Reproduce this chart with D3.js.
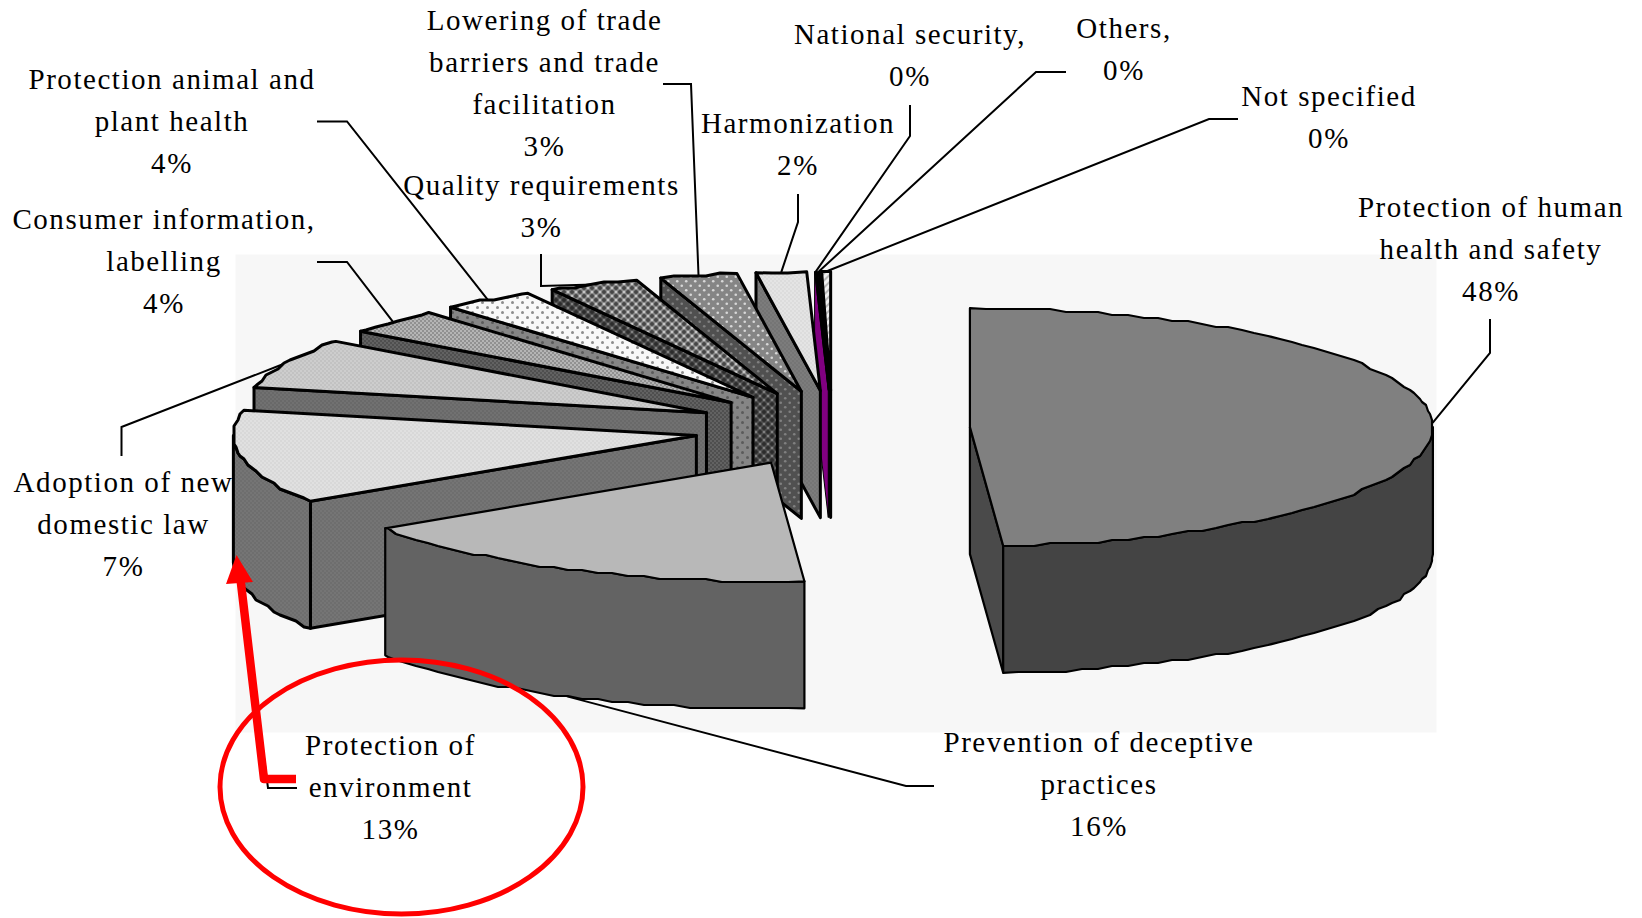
<!DOCTYPE html>
<html>
<head>
<meta charset="utf-8">
<script src="https://cdn.jsdelivr.net/npm/d3@7"></script>
<style>
    html, body { margin: 0; padding: 0; background: #fff; }
    svg { display: block; }
    text { font-family: "Liberation Serif", serif; font-size: 29px; letter-spacing: 1.55px; fill: #000; }
</style>
</head>
<body>
<div id="chart"></div>
<script>
// Data, slices run clockwise from 12 o'clock
var names = [
    ["Protection of human", "health and safety"],
    ["Prevention of deceptive", "practices"],
    ["Protection of", "environment"],
    ["Adoption of new", "domestic law"],
    ["Consumer information,", "labelling"],
    ["Protection animal and", "plant health"],
    ["Quality requirements"],
    ["Lowering of trade", "barriers and trade", "facilitation"],
    ["Harmonization"],
    ["National security,"],
    ["Others,"],
    ["Not specified"]
];
var values = [48.86, 16.83, 12.72, 6.83, 3.44, 3.25, 3.17, 2.69, 1.75, 0.08, 0.08, 0.31];
var percentLabels = ["48%", "16%", "13%", "7%", "4%", "4%", "3%", "3%", "2%", "0%", "0%", "0%"];

// Label layout: centre x and first line y, then the fixed elbows of the leader lines
var labelX = [1491, 1099, 390.5, 123.5, 164, 172, 541.5, 544.5, 798, 910, 1124, 1329];
var labelY = [207.5, 742.5, 745.5, 482.7, 219.5, 79.6, 185.5, 21, 123.5, 34.5, 28.5, 96.5];
var leaderPoints = [
    [[1490, 319], [1490, 353]],
    [[934, 786], [906, 786]],
    [[297, 788], [268, 788]],
    [[121.5, 456], [121.5, 427]],
    [[317, 262], [347, 262]],
    [[317, 121.5], [347, 121.5]],
    [[541, 254], [541, 286]],
    [[663, 84], [691, 84]],
    [[798, 194], [798, 222]],
    [[910, 105], [910, 136]],
    [[1066, 72], [1036, 72]],
    [[1238, 119], [1209, 119]]
];

// Fills per slice: top face, walls
var topFills = ["#808080", "#b8b8b8", "url(#envTop)", "url(#lawTop)", "url(#infoTop)", "url(#animalTop)",
    "url(#qualityTop)", "url(#tradeTop)", "url(#harmTop)", "#000000", "#000000", "url(#otherTop)"];
var wallFills = ["#444444", "#636363", "url(#envWall)", "url(#lawWall)", "url(#infoWall)", "url(#animalWall)",
    "url(#qualityWall)", "url(#tradeWall)", "url(#harmWall)", "#800080", "#000000", "#000000"];

var width = 1642, height = 918;

// Pie geometry
var center = { x: 832, y: 428.5 };
var radius = { x: 463, y: 119 };
var explode = { x: 138, y: 38 };
var depth = 127;

var svg = d3.select("#chart").append("svg")
    .attr("width", width)
    .attr("height", height);

var defs = svg.append("defs");

// A small tile: background colour plus some round dots
function addPattern(id, size, bg, dots) {
    var p = defs.append("pattern")
        .attr("id", id)
        .attr("patternUnits", "userSpaceOnUse")
        .attr("width", size)
        .attr("height", size);
    p.append("rect").attr("width", size).attr("height", size).attr("fill", bg);
    dots.forEach(function(d) {
        p.append("circle").attr("cx", d[0]).attr("cy", d[1]).attr("r", d[2]).attr("fill", d[3]);
    });
}

// fine dither
addPattern("envTop", 4, "#e0e0e0", [[1, 1, 0.8, "#cfcfcf"], [3, 3, 0.8, "#cfcfcf"]]);
addPattern("envWall", 4, "#757575", [[1, 1, 0.8, "#666666"], [3, 3, 0.8, "#666666"]]);
addPattern("lawTop", 4, "#cdcdcd", [[1, 1, 0.8, "#b4b4b4"], [3, 3, 0.8, "#b4b4b4"]]);
addPattern("lawWall", 4, "#717171", [[1, 1, 0.8, "#5e5e5e"], [3, 3, 0.8, "#5e5e5e"]]);
addPattern("infoTop", 4, "#b5b5b5", [[1, 1, 1, "#858585"], [3, 3, 1, "#858585"]]);
addPattern("infoWall", 4, "#626262", [[1, 1, 1, "#484848"], [3, 3, 1, "#484848"]]);
addPattern("harmTop", 4, "#e4e4e4", [[1, 1, 0.8, "#d2d2d2"], [3, 3, 0.8, "#d2d2d2"]]);
addPattern("harmWall", 4, "#7c7c7c", [[1, 1, 0.8, "#6c6c6c"], [3, 3, 0.8, "#6c6c6c"]]);
// spaced dots
addPattern("animalTop", 10, "#f8f8f8", [[2.5, 2.5, 1.5, "#8c8c8c"], [7.5, 7.5, 1.5, "#8c8c8c"]]);
addPattern("animalWall", 10, "#858585", [[2.5, 2.5, 1.5, "#5a5a5a"], [7.5, 7.5, 1.5, "#5a5a5a"]]);
addPattern("tradeTop", 9, "#858585", [[2.25, 2.25, 1.3, "#d8d8d8"], [6.75, 6.75, 1.3, "#d8d8d8"]]);
addPattern("tradeWall", 9, "#505050", [[2.25, 2.25, 1.3, "#808080"], [6.75, 6.75, 1.3, "#808080"]]);
// cross hatch
addPattern("qualityTop", 8, "#8c8c8c", [[0, 0, 2, "#454545"], [8, 0, 2, "#454545"], [0, 8, 2, "#454545"], [8, 8, 2, "#454545"], [4, 4, 2, "#454545"], [4, 0, 1, "#d8d8d8"], [0, 4, 1, "#d8d8d8"], [8, 4, 1, "#d8d8d8"], [4, 8, 1, "#d8d8d8"]]);
addPattern("qualityWall", 8, "#505050", [[0, 0, 2, "#2c2c2c"], [8, 0, 2, "#2c2c2c"], [0, 8, 2, "#2c2c2c"], [8, 8, 2, "#2c2c2c"], [4, 4, 2, "#2c2c2c"], [4, 0, 1, "#909090"], [0, 4, 1, "#909090"], [8, 4, 1, "#909090"], [4, 8, 1, "#909090"]]);
// diagonal hatch for the last slice
var hatch = defs.append("pattern")
    .attr("id", "otherTop")
    .attr("patternUnits", "userSpaceOnUse")
    .attr("width", 5)
    .attr("height", 5)
    .attr("patternTransform", "rotate(-45)");
hatch.append("rect").attr("width", 5).attr("height", 5).attr("fill", "#f0f0f0");
hatch.append("rect").attr("width", 5).attr("height", 2).attr("fill", "#b8b8b8");

// Plot area
svg.append("rect")
    .attr("x", 235.5)
    .attr("y", 254.5)
    .attr("width", 1201)
    .attr("height", 478)
    .attr("fill", "#f7f7f7");

var pie = d3.pie().value(function(d) { return d; }).sort(null);
var slices = pie(values);

var line = d3.line();
var DEG = Math.PI / 180;

slices.forEach(function(d) {
    d.mid = (d.startAngle + d.endAngle) / 2;
    d.apex = [
        center.x + explode.x * Math.sin(d.mid),
        center.y - explode.y * Math.cos(d.mid)
    ];
});

function onRim(d, angle, drop) {
    return [
        d.apex[0] + radius.x * Math.sin(angle),
        d.apex[1] - radius.y * Math.cos(angle) + (drop || 0)
    ];
}

// The rim in the reference is a coarse polyline, so snap the samples to a grid
function rimPoints(d, a0, a1, drop) {
    var pts = [onRim(d, a0, drop)];
    var step = 2 * DEG;
    for (var a = Math.ceil(a0 / step + 0.2) * step; a < a1 - 0.2 * step; a += step) {
        var p = onRim(d, a, drop);
        pts.push([Math.round(p[0] / 2) * 2, Math.round(p[1] / 3) * 3]);
    }
    pts.push(onRim(d, a1, drop));
    return pts;
}

function isFront(angle) {
    return angle > Math.PI / 2 && angle < 1.5 * Math.PI;
}

// Leader lines go under the slices
var leaderGroup = svg.append("g").attr("class", "leaders");
slices.forEach(function(d, i) {
    var anchor = onRim(d, d.mid, isFront(d.mid) ? depth : 0);
    leaderGroup.append("path")
        .attr("d", line(leaderPoints[i].concat([anchor])))
        .attr("fill", "none")
        .attr("stroke", "#000")
        .attr("stroke-width", 2);
});

// Slices, back to front
var sliceGroup = svg.append("g").attr("class", "slices");

function face(points, fill, strokeWidth) {
    sliceGroup.append("path")
        .attr("d", line(points) + "Z")
        .attr("fill", fill)
        .attr("stroke", "#000")
        .attr("stroke-width", strokeWidth)
        .attr("stroke-linejoin", "round");
}

d3.range(slices.length - 1, -1, -1).forEach(function(i) {
    var d = slices[i];
    // big slices have the thinner outline, the slivers must not drown in it
    var sw = d.value < 0.2 ? 1 : (d.value > 16 ? 2.2 : 3);
    var bottom = function(p) { return [p[0], p[1] + depth]; };

    // radial walls that look at the viewer
    if (d.startAngle > Math.PI) {
        var s = onRim(d, d.startAngle);
        face([d.apex, s, bottom(s), bottom(d.apex)], wallFills[i], sw);
    }
    if (d.endAngle < Math.PI) {
        var e = onRim(d, d.endAngle);
        face([d.apex, e, bottom(e), bottom(d.apex)], i === 0 ? "#4a4a4a" : wallFills[i], sw);
    }

    // outer wall, front half of the rim only
    var a0 = Math.max(d.startAngle, Math.PI / 2);
    var a1 = Math.min(d.endAngle, 1.5 * Math.PI);
    if (a1 > a0) {
        face(rimPoints(d, a0, a1, 0).concat(rimPoints(d, a0, a1, depth).reverse()), wallFills[i], sw);
    }

    // top face
    face([d.apex].concat(rimPoints(d, d.startAngle, d.endAngle, 0)), topFills[i], sw);
});

// Labels
var labelGroup = svg.append("g").attr("class", "labels");
slices.forEach(function(d, i) {
    var rows = names[i].concat([percentLabels[i]]);
    labelGroup.append("text")
        .attr("text-anchor", "middle")
        .selectAll("tspan")
        .data(rows)
        .enter().append("tspan")
        .attr("x", labelX[i])
        .attr("y", function(r, k) { return labelY[i] + k * 42; })
        .attr("dy", "0.32em")
        .text(function(r) { return r; });
});

// Red hand-drawn annotation
var notes = svg.append("g").attr("class", "notes");
notes.append("ellipse")
    .attr("cx", 401.5)
    .attr("cy", 787)
    .attr("rx", 181.5)
    .attr("ry", 127)
    .attr("fill", "none")
    .attr("stroke", "#ff0000")
    .attr("stroke-width", 5);
notes.append("path")
    .attr("d", line([[296, 779], [264, 779], [240, 575]]))
    .attr("fill", "none")
    .attr("stroke", "#ff0000")
    .attr("stroke-width", 8.5)
    .attr("stroke-linejoin", "round");
notes.append("path")
    .attr("d", line([[236.5, 555], [253, 582], [226, 584]]) + "Z")
    .attr("fill", "#ff0000");
</script>
</body>
</html>
